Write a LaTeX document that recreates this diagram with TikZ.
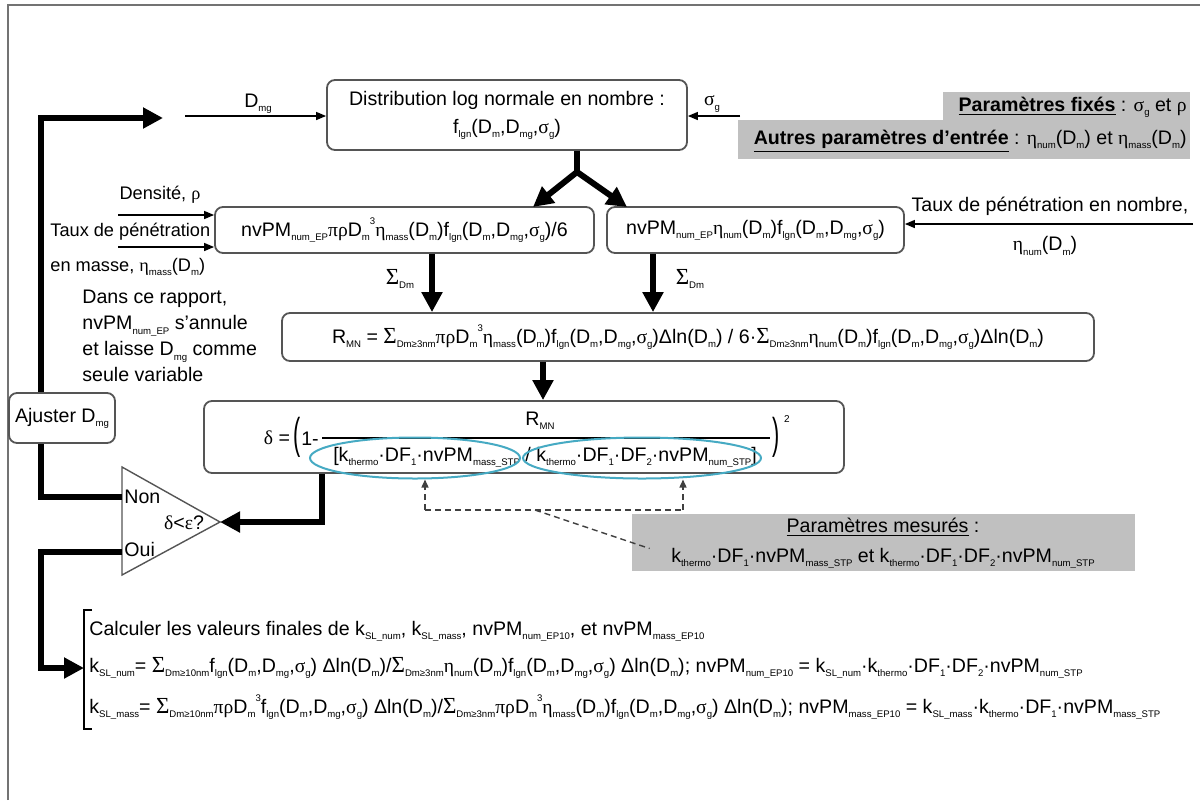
\documentclass[tikz,border=0pt]{standalone}
\usepackage{graphicx}
\usepackage{fontspec}
\setmainfont{Liberation Sans}
\newfontfamily\grk{Liberation Serif}
\usetikzlibrary{arrows.meta,shapes.geometric}
\definecolor{pgray}{RGB}{192,192,192}
\definecolor{boxline}{RGB}{85,85,85}
\definecolor{ellc}{RGB}{70,170,195}
\newcommand{\lo}[1]{\raisebox{-0.4ex}{\fontsize{4.8}{5}\selectfont #1}}
\newcommand{\hi}[1]{\raisebox{1.2ex}{\fontsize{4.8}{5}\selectfont #1}}
\newcommand{\gsig}{{\grk σ}}
\newcommand{\grho}{{\grk ρ}}
\newcommand{\geta}{{\grk η}}
\newcommand{\gpi}{{\grk π}}
\newcommand{\gdel}{{\grk δ}}
\newcommand{\geps}{{\grk ε}}
\newcommand{\gsum}{{\grk\fontsize{11.5}{12}\selectfont Σ}}
\newcommand{\flgn}{f\lo{lgn}(D\lo{m},D\lo{mg},\gsig\lo{g})}
\tikzset{
  every node/.style={font=\fontsize{9.8}{12}\selectfont, inner sep=0pt},
  small/.style={font=\fontsize{9.1}{12}\selectfont},
  rbox/.style={draw=boxline, line width=0.9pt, rounded corners=4pt},
  gbox/.style={fill=pgray},
  thinarr/.style={line width=0.7pt, -{Triangle[length=5pt,width=4pt]}},
  thickline/.style={line width=3pt, line join=miter},
  thickarr/.style={line width=3pt, line join=miter, -{Triangle[length=10pt,width=10pt]}},
  dsh/.style={dash pattern=on 3pt off 2pt, line width=0.7pt, draw=black!75},
  dsharr/.style={dsh, -{Triangle[length=4pt,width=3.5pt]}},
  ell/.style={ellipse, draw=ellc, line width=1pt}
}
\begin{document}
\begin{tikzpicture}[x=0.5pt,y=-0.5pt]
\useasboundingbox (0,0) rectangle (1200,800);
\draw[black!55, line width=0.6pt] (8,800) -- (8,5) -- (1200,5);

% top-right gray boxes
\node[gbox, minimum width=123.5pt, minimum height=14pt] (gb1) at (1066.5,106) {};
\node[gbox, minimum width=226pt, minimum height=19.5pt] (gb2) at (964,139.5) {};
\node[anchor=east] (fix) at (1187,107) {\textbf{\underline{Paramètres fixés}} : \gsig\lo{g} et \grho};
\node[anchor=east] (autres) at (1187,141) {\textbf{\underline{Autres paramètres d'entrée}} : \geta\lo{num}(D\lo{m}) et \geta\lo{mass}(D\lo{m})};

% main boxes
\node[rbox, minimum width=180pt, minimum height=35pt, align=center] (dist) at (507,115)
  {Distribution log normale en nombre :\\[2pt] \flgn};
\node[rbox, minimum width=189.5pt, minimum height=23pt] (mass) at (404.5,230)
  {nvPM\lo{num\_EP}\gpi\grho D\lo{m}\hi{3}\geta\lo{mass}(D\lo{m})\flgn/6};
\node[rbox, minimum width=148.5pt, minimum height=23pt] (numb) at (755.5,230)
  {nvPM\lo{num\_EP}\geta\lo{num}(D\lo{m})\flgn};
\node[rbox, minimum width=406pt, minimum height=24pt] (rmn) at (688,337)
  {R\lo{MN} = \gsum\lo{Dm≥3nm}\gpi\grho D\lo{m}\hi{3}\geta\lo{mass}(D\lo{m})\flgn Δln(D\lo{m}) / 6·\gsum\lo{Dm≥3nm}\geta\lo{num}(D\lo{m})\flgn Δln(D\lo{m})};
\node[rbox, minimum width=320pt, minimum height=36pt] (delta) at (524,437) {};
\node[rbox, minimum width=53pt, minimum height=25pt] (aj) at (62,418) {Ajuster D\lo{mg}};

% delta formula
\node (deq) at (277,438) {\gdel\ =};
\node (lpar) at (297,437) {\scalebox{1.1}[2.2]{(}};
\node (one) at (310,439) {1-};
\coordinate (fbl) at (322,438);
\coordinate (fbr) at (770,438);
\draw[line width=0.6pt] (fbl) -- (fbr);
\node (fnum) at (540,421) {R\lo{MN}};
\node (fden) at (545,457) {[k\lo{thermo}·DF\lo{1}·nvPM\lo{mass\_STP} / k\lo{thermo}·DF\lo{1}·DF\lo{2}·nvPM\lo{num\_STP}]};
\node (rpar) at (776,437) {\scalebox{1.1}[2.2]{)}};
\node[font=\fontsize{5}{5}\selectfont] (sq) at (787,419) {2};
\node[ell, minimum width=105pt, minimum height=20.5pt] (e1) at (415,458) {};
\node[ell, minimum width=119pt, minimum height=20.5pt] (e2) at (642,458) {};

% labels
\node (dmg) at (258,104) {D\lo{mg}};
\node (sg) at (712,104) {\gsig\lo{g}};
\node[small] (dens) at (160,195) {Densité, \grho};
\node[small, anchor=west] (tp) at (50,232) {Taux de pénétration};
\node[small, anchor=west] (enm) at (50,267) {en masse, \geta\lo{mass}(D\lo{m})};
\node[anchor=north west, align=left, font=\fontsize{9.8}{13}\selectfont] (dans) at (82,290)
  {Dans ce rapport,\\ nvPM\lo{num\_EP} s'annule\\ et laisse D\lo{mg} comme\\ seule variable};
\node (tpn) at (1050,206) {Taux de pénétration en nombre,};
\node (etan) at (1045,246) {\geta\lo{num}(D\lo{m})};
\node (s1) at (400,279) {\gsum\lo{Dm}};
\node (s2) at (690,279) {\gsum\lo{Dm}};

% triangle
\coordinate (t1) at (122,467);
\coordinate (t2) at (122,575);
\coordinate (t3) at (220,522);
\draw[boxline, line width=0.7pt, fill=white] (t1) -- (t3) -- (t2) -- cycle;
\node[anchor=west] (non) at (124,497) {Non};
\node[anchor=west] (oui) at (124,549) {Oui};
\node (test) at (184,523) {\gdel<\geps?};

% measured parameters
\node[gbox, minimum width=251.5pt, minimum height=28.5pt] (meas) at (883.5,542.5) {};
\node (measl1) at (883,527) {\underline{Paramètres mesurés} :};
\node (measl2) at (883,558) {k\lo{thermo}·DF\lo{1}·nvPM\lo{mass\_STP} et k\lo{thermo}·DF\lo{1}·DF\lo{2}·nvPM\lo{num\_STP}};

% bottom results
\coordinate (bt) at (84,610);
\coordinate (bb) at (84,729);
\draw[line width=0.6pt] ([xshift=4pt]bt) -- (bt) -- (bb) -- ([xshift=4pt]bb);
\node[anchor=west] (r1) at (89,631) {Calculer les valeurs finales de k\lo{SL\_num}, k\lo{SL\_mass}, nvPM\lo{num\_EP10}, et nvPM\lo{mass\_EP10}};
\node[anchor=west] (r2) at (89,668) {k\lo{SL\_num}= \gsum\lo{Dm≥10nm}\flgn\ Δln(D\lo{m})/\gsum\lo{Dm≥3nm}\geta\lo{num}(D\lo{m})\flgn\ Δln(D\lo{m}); nvPM\lo{num\_EP10} = k\lo{SL\_num}·k\lo{thermo}·DF\lo{1}·DF\lo{2}·nvPM\lo{num\_STP}};
\node[anchor=west] (r3) at (89,707) {k\lo{SL\_mass}= \gsum\lo{Dm≥10nm}\gpi\grho D\lo{m}\hi{3}\flgn\ Δln(D\lo{m})/\gsum\lo{Dm≥3nm}\gpi\grho D\lo{m}\hi{3}\geta\lo{mass}(D\lo{m})\flgn\ Δln(D\lo{m}); nvPM\lo{mass\_EP10} = k\lo{SL\_mass}·k\lo{thermo}·DF\lo{1}·nvPM\lo{mass\_STP}};

% thin arrows
\coordinate (dmgs) at (185,116);
\draw[thinarr] (dmgs) -- (dmgs -| dist.west);
\coordinate (sgs) at (740,116);
\draw[thinarr] (sgs) -- (sgs -| dist.east);
\coordinate (rin) at (1193,224);
\draw[thinarr] (rin) -- (rin -| numb.east);
\coordinate (lin1) at (118,215);
\coordinate (lin2) at (118,247);
\draw[thinarr] (lin1) -- (lin1 -| mass.west);
\draw[thinarr] (lin2) -- (lin2 -| mass.west);

% thick connectors
\coordinate (split) at (577,172);
\draw[thickline] (dist.south -| split) -- (split);
\coordinate (tipl) at (533,207);
\coordinate (tipr) at (627,207);
\draw[thickarr] (split) -- (tipl);
\draw[thickarr] (split) -- (tipr);
\coordinate (xl) at (432,0);
\coordinate (xr) at (653,0);
\draw[thickarr] (mass.south -| xl) -- (rmn.north -| xl);
\draw[thickarr] (numb.south -| xr) -- (rmn.north -| xr);
\coordinate (xc) at (543,0);
\draw[thickarr] (rmn.south -| xc) -- (delta.north -| xc);
\coordinate (dx) at (322,522);
\draw[thickarr] (delta.south -| dx) -- (dx) -- (t3);
\coordinate (lx) at (41,118);
\coordinate (loopend) at (163,118);
\draw[thickarr] (aj.north -| lx) -- (lx) -- (loopend);
\coordinate (nonl) at (41,497);
\draw[thickline] (nonl -| t1) -- (nonl) -- (aj.south -| nonl);
\coordinate (ouil) at (41,552);
\coordinate (ouib) at (41,668);
\draw[thickarr] (ouil -| t1) -- (ouil) -- (ouib) -- (ouib -| bt);

% dashed connectors
\coordinate (dl) at (425,510);
\coordinate (dr) at (683,510);
\coordinate (dm) at (535,510);
\draw[dsh] (dl) -- (dr);
\draw[dsharr] (dl) -- (dl |- e1.south);
\draw[dsharr] (dr) -- (dr |- e2.south);
\draw[dsh] (dm) -- ([xshift=9pt,yshift=-3pt]meas.west);
\end{tikzpicture}
\end{document}
